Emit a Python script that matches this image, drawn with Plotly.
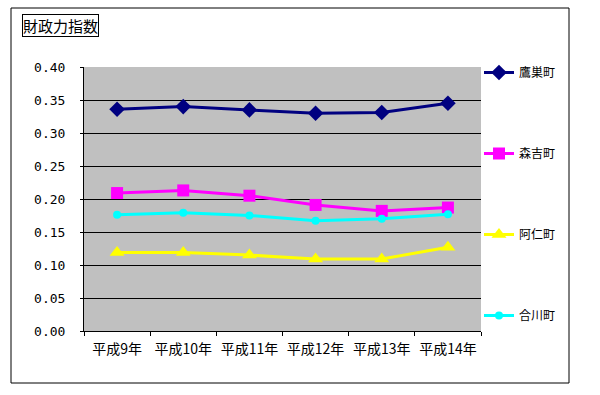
import plotly.graph_objects as go

categories = ["平成9年", "平成10年", "平成11年", "平成12年", "平成13年", "平成14年"]
takanosu = [0.336, 0.340, 0.335, 0.330, 0.331, 0.345]
moriyoshi = [0.209, 0.213, 0.205, 0.191, 0.182, 0.187]
ani = [0.119, 0.119, 0.115, 0.109, 0.109, 0.127]
aikawa = [0.176, 0.179, 0.175, 0.167, 0.170, 0.177]
y_ticks = [0.00, 0.05, 0.10, 0.15, 0.20, 0.25, 0.30, 0.35, 0.40]

series = [
    ("鷹巣町", takanosu, "#000080", "diamond", 12),
    ("森吉町", moriyoshi, "#FF00FF", "square", 12),
    ("阿仁町", ani, "#FFFF00", "triangle-up", 13),
    ("合川町", aikawa, "#00FFFF", "circle", 8),
]

JP = "Noto Sans CJK JP"

fig = go.Figure()
for i, (name, vals, color, sym, size) in enumerate(series):
    fig.add_trace(go.Scatter(
        x=categories, y=vals, name=name, mode="lines+markers",
        line=dict(color=color, width=3),
        marker=dict(symbol=sym, size=size, color=color),
        legendgroup=f"g{i}",
    ))

L, R, T, B = 84, 119, 67, 64
W, H = 600, 395
pw, ph = W - L - R, H - T - B

def px_x(x):
    return (x - L) / pw

def px_y(y):
    return (H - B - y) / ph

fig.update_layout(
    width=W, height=H,
    margin=dict(l=L, r=R, t=T, b=B, pad=0),
    paper_bgcolor="white",
    plot_bgcolor="#C0C0C0",
    font=dict(family=JP, color="black", size=12),
    showlegend=True,
    legend=dict(
        x=px_x(479), xanchor="left", y=px_y(58), yanchor="top",
        font=dict(family=JP, size=12, color="black"),
        tracegroupgap=62, bgcolor="rgba(0,0,0,0)",
        itemwidth=30, maxheight=380,
    ),
    xaxis=dict(
        type="category", range=[-0.5, 5.5],
        showline=True, linecolor="black", linewidth=1,
        ticks="outside", ticklen=4, tickcolor="black",
        tickson="boundaries", showgrid=False, tickangle=0,
        tickfont=dict(family=JP, size=14, color="black"),
        ticklabelstandoff=5,
        fixedrange=True,
    ),
    yaxis=dict(
        range=[0, 0.4], tickvals=y_ticks, tickformat=".2f",
        showline=True, linecolor="black", linewidth=1,
        ticks="outside", ticklen=3, tickcolor="black",
        showgrid=True, gridcolor="black", gridwidth=1,
        zeroline=False,
        tickfont=dict(family="DejaVu Sans Mono", size=13, color="black"),
        ticklabelstandoff=12,
    ),
    shapes=[
        dict(type="rect", xref="paper", yref="paper",
             x0=px_x(11), x1=px_x(569), y0=px_y(383), y1=px_y(8),
             line=dict(color="black", width=1), fillcolor="rgba(0,0,0,0)",
             layer="below"),
    ],
    annotations=[
        dict(text="財政力指数", xref="paper", yref="paper",
             x=px_x(22), xanchor="left", y=px_y(14), yanchor="top",
             showarrow=False, font=dict(family=JP, size=15, color="black"),
             bordercolor="black", borderwidth=1, borderpad=0,
             bgcolor="white"),
    ],
)

fig.write_html("out.html", config={"displayModeBar": False},
               post_script="document.body.style.margin='0';")
